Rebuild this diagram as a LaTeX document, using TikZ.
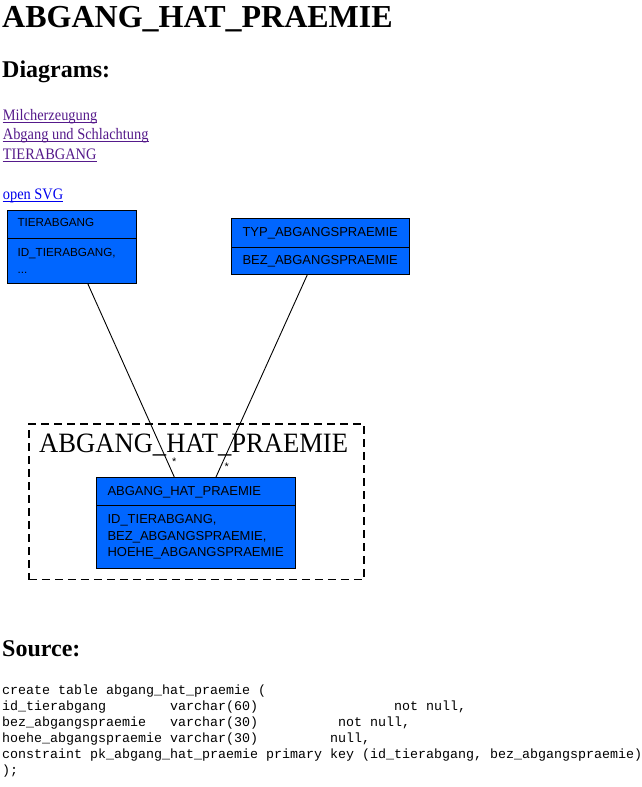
\documentclass[tikz,border=0pt]{standalone}
\usepackage{fontspec}
\setmainfont{Liberation Serif}
\newfontfamily\arialf{Liberation Sans}
\newfontfamily\courf{Liberation Mono}
\usetikzlibrary{calc}
\definecolor{boxblue}{RGB}{0,102,255}
\definecolor{visitedlink}{RGB}{85,26,139}
\definecolor{linkblue}{RGB}{0,0,238}
\begin{document}
\begin{tikzpicture}[x=1pt,y=-1pt,
  txt/.style={inner sep=0pt, anchor=base west},
  ent/.style={draw=black, fill=boxblue, line width=0.8pt, inner sep=0pt, anchor=north west},
  etxt/.style={txt, font=\arialf\fontsize{13}{15}\selectfont},
  etxts/.style={txt, font=\arialf\fontsize{11.7}{14}\selectfont},
  code/.style={txt, font=\courf\fontsize{13.33}{16}\selectfont},
  linkv/.style={txt, text=visitedlink, font=\fontsize{16}{18}\selectfont},
  linkb/.style={txt, text=linkblue, font=\fontsize{16}{18}\selectfont},
  conn/.style={draw=black, line width=0.9pt},
  frame/.style={draw=black, dash pattern=on 8pt off 5pt, line width=1.3pt, inner sep=0pt, anchor=north west},
  mult/.style={inner sep=0pt, anchor=base, font=\arialf\fontsize{11}{13}\selectfont}
]
\useasboundingbox[fill=white] (0,0) rectangle (642,787);

% headings
\node[txt, font=\bfseries\fontsize{32}{38}\selectfont] (title) at (2,27.5) {ABGANG\_HAT\_PRAEMIE};
\node[txt, font=\bfseries\fontsize{24}{28}\selectfont] (diag) at (2,77.5) {Diagrams:};

% links
\node[linkv] (l1) at (2.7,120) {\scalebox{0.9}[1]{Milcherzeugung}};
\node[linkv] (l2) at (2.7,139.5) {\scalebox{0.9}[1]{Abgang und Schlachtung}};
\node[linkv] (l3) at (2.7,159.5) {\scalebox{0.9}[1]{TIERABGANG}};
\node[linkb] (l4) at (2.7,199.5) {\scalebox{0.9}[1]{open SVG}};
\draw[visitedlink, line width=0.8pt] ($(l1.base west)+(0,2)$) -- ($(l1.base east)+(0,2)$);
\draw[visitedlink, line width=0.8pt] ($(l2.base west)+(0,2)$) -- ($(l2.base east)+(0,2)$);
\draw[visitedlink, line width=0.8pt] ($(l3.base west)+(0,2)$) -- ($(l3.base east)+(0,2)$);
\draw[linkblue, line width=0.8pt] ($(l4.base west)+(0,2)$) -- ($(l4.base east)+(0,2)$);

% package frame
\node[frame, minimum width=335pt, minimum height=155.7pt] (frm) at (28.3,423.3) {};
\node[txt, font=\fontsize{28}{32}\selectfont] (frmlabel) at (39,452.3) {\scalebox{0.95}[1]{ABGANG\_HAT\_PRAEMIE}};

% entities
\node[ent, minimum width=129.3pt, minimum height=27.7pt] (tierH) at (6.7,210) {};
\node[ent, minimum width=129.3pt, minimum height=45pt] (tierB) at (6.7,237.7) {};
\node[etxts] (tierT) at (17.3,226.7) {TIERABGANG};
\node[etxts] (tierA1) at (17.3,256) {ID\_TIERABGANG,};
\node[etxts] (tierA2) at (17.3,273) {...};

\node[ent, minimum width=178.3pt, minimum height=28.4pt] (typH) at (231,218.3) {};
\node[ent, minimum width=178.3pt, minimum height=27.3pt] (typB) at (231,246.7) {};
\node[etxt] (typT) at (242.3,236.7) {TYP\_ABGANGSPRAEMIE};
\node[etxt] (typA1) at (242.3,264.3) {BEZ\_ABGANGSPRAEMIE};

\node[ent, minimum width=199pt, minimum height=28pt] (ahpH) at (96,477) {};
\node[ent, minimum width=199pt, minimum height=63pt] (ahpB) at (96,505) {};
\node[etxt] (ahpT) at (107.3,495.7) {ABGANG\_HAT\_PRAEMIE};
\node[etxt] (ahpA1) at (107.3,523.3) {ID\_TIERABGANG,};
\node[etxt] (ahpA2) at (107.3,540) {BEZ\_ABGANGSPRAEMIE,};
\node[etxt] (ahpA3) at (107.3,556.7) {HOEHE\_ABGANGSPRAEMIE};

% connectors
\draw[conn] ($(tierB.south west)+(81,0)$) -- ($(ahpH.north west)+(78.3,0)$);
\draw[conn] ($(typB.south west)+(76.3,0)$) -- ($(ahpH.north west)+(120,0)$);
\node[mult] (m1) at (174.3,465.3) {*};
\node[mult] (m2) at (226.7,470.6) {*};

% source
\node[txt, font=\bfseries\fontsize{24}{28}\selectfont] (src) at (2,656.7) {Source:};
\node[code] (c1) at (2,694) {create table abgang\_hat\_praemie (};
\node[code] (c2a) at (2,710) {id\_tierabgang};
\node[code] (c2b) at (170,710) {varchar(60)};
\node[code] (c2c) at (394,710) {not null,};
\node[code] (c3a) at (2,726) {bez\_abgangspraemie};
\node[code] (c3b) at (170,726) {varchar(30)};
\node[code] (c3c) at (338,726) {not null,};
\node[code] (c4a) at (2,742) {hoehe\_abgangspraemie};
\node[code] (c4b) at (170,742) {varchar(30)};
\node[code] (c4c) at (330,742) {null,};
\node[code] (c5) at (2,758) {constraint pk\_abgang\_hat\_praemie primary key (id\_tierabgang, bez\_abgangspraemie)};
\node[code] (c6) at (2,774) {);};
\end{tikzpicture}
\end{document}
